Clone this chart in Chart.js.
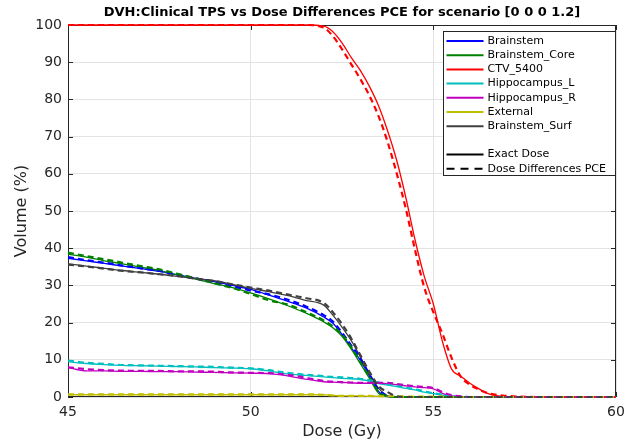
<!DOCTYPE html>
<html>
<head>
<meta charset="utf-8">
<script src="https://cdn.jsdelivr.net/npm/chart.js@4.4.0/dist/chart.umd.min.js"></script>
<style>
  html, body { margin: 0; padding: 0; background: #fff; }
</style>
</head>
<body>
<canvas id="dvhChart" width="627" height="443"></canvas>
<script>
// dose grid (Gy) shared by every curve
const dose = [45, 45.5, 46, 46.5, 47, 47.5, 48, 48.5, 49, 49.5, 50, 50.5, 51, 51.5, 52,
  52.25, 52.5, 52.75, 53, 53.25, 53.5, 53.75, 54, 54.25, 54.5, 54.75, 55, 55.25, 55.5, 55.75, 56, 56.25, 56.5,
  57, 58, 59, 60];

const structures = ["Brainstem", "Brainstem_Core", "CTV_5400", "Hippocampus_L", "Hippocampus_R", "External", "Brainstem_Surf"];
const colors = ["#0000ff", "#008000", "#ff0000", "#00bfbf", "#bf00bf", "#bfbf00", "#404040"];

// Volume (%) - exact dose
const brainstemExact = [37.3, 36.6, 35.9, 35.2, 34.5, 33.8, 32.8, 31.9, 31.0, 30.0, 28.9, 27.4, 25.8, 24.0, 21.5,
  19.8, 16.8, 13.3, 9.9, 5.6, 1.5, 0.1, 0, 0, 0, 0, 0, 0, 0, 0, 0, 0, 0, 0, 0, 0, 0];
const coreExact = [38.4, 37.6, 36.6, 35.8, 34.9, 34.0, 32.8, 31.7, 30.5, 29.4, 28.0, 26.4, 24.6, 22.6, 20.2,
  18.6, 16.3, 12.9, 9.0, 5.0, 1.0, 0.1, 0, 0, 0, 0, 0, 0, 0, 0, 0, 0, 0, 0, 0, 0, 0];
const ctvExact = [100, 100, 100, 100, 100, 100, 100, 100, 100, 100, 100, 100, 100, 100, 99.7,
  98.2, 95.2, 91.3, 87.8, 83.5, 78.3, 71.5, 63.5, 53.5, 42.2, 32.5, 25.0, 14.9, 7.5, 5.6, 3.7, 2.2, 0.9, 0.1, 0, 0, 0];
const hippoLExact = [9.5, 9.0, 8.7, 8.5, 8.4, 8.3, 8.2, 8.1, 7.9, 7.8, 7.6, 7.0, 6.2, 5.8, 5.4,
  5.2, 5.0, 4.9, 4.7, 4.3, 3.6, 3.2, 2.8, 2.3, 1.9, 1.3, 0.9, 0.5, 0.2, 0.1, 0, 0, 0, 0, 0, 0, 0];
const hippoRExact = [7.9, 7.0, 7.0, 6.9, 6.9, 6.8, 6.8, 6.7, 6.6, 6.5, 6.4, 6.3, 5.7, 4.8, 4.1,
  4.0, 3.9, 3.8, 3.7, 3.7, 3.7, 3.6, 3.3, 3.0, 2.7, 2.5, 2.2, 1.0, 0.3, 0.1, 0, 0, 0, 0, 0, 0, 0];
const externalExact = [0.6, 0.6, 0.6, 0.6, 0.6, 0.6, 0.6, 0.6, 0.6, 0.6, 0.6, 0.6, 0.6, 0.6, 0.6,
  0.4, 0.3, 0.3, 0.3, 0.2, 0.2, 0.2, 0.1, 0.1, 0.1, 0.1, 0.1, 0, 0, 0, 0, 0, 0, 0, 0, 0, 0];
const surfExact = [35.8, 35.2, 34.6, 34.0, 33.5, 33.0, 32.4, 31.8, 31.3, 30.3, 29.2, 28.3, 27.3, 26.0, 24.7,
  22.0, 18.8, 15.2, 10.8, 6.0, 2.4, 0.3, 0, 0, 0, 0, 0, 0, 0, 0, 0, 0, 0, 0, 0, 0, 0];

// Volume (%) - dose differences PCE
const brainstemPce = [37.6, 36.8, 36.1, 35.3, 34.6, 33.9, 32.9, 31.9, 30.9, 29.8, 28.6, 27.6, 26.2, 24.4, 22.0,
  20.3, 17.3, 13.9, 10.4, 6.1, 2.0, 0.3, 0, 0, 0, 0, 0, 0, 0, 0, 0, 0, 0, 0, 0, 0, 0];
const corePce = [38.8, 37.9, 37.0, 36.1, 35.2, 34.3, 33.1, 31.9, 30.6, 29.3, 27.7, 26.0, 24.9, 22.9, 20.6,
  19.0, 16.8, 13.4, 9.4, 5.4, 1.4, 0.2, 0, 0, 0, 0, 0, 0, 0, 0, 0, 0, 0, 0, 0, 0, 0];
const ctvPce = [100, 100, 100, 100, 100, 100, 100, 100, 100, 100, 100, 100, 100, 100, 99.3,
  97.0, 93.5, 89.5, 85.5, 81.0, 75.5, 68.5, 60.0, 50.5, 39.5, 29.5, 22.8, 17.0, 10.5, 5.5, 3.3, 2.0, 1.0, 0.3, 0, 0, 0];
const hippoLPce = [9.8, 9.2, 8.9, 8.6, 8.5, 8.4, 8.3, 8.2, 8.1, 7.9, 7.7, 7.2, 6.5, 6.0, 5.6,
  5.4, 5.3, 5.1, 4.9, 4.5, 3.9, 3.4, 3.0, 2.5, 2.1, 1.5, 1.0, 0.6, 0.3, 0.1, 0, 0, 0, 0, 0, 0, 0];
const hippoRPce = [8.0, 7.5, 7.2, 7.1, 7.0, 7.0, 6.9, 6.9, 6.8, 6.6, 6.5, 6.4, 6.0, 5.2, 4.3,
  4.1, 4.0, 3.9, 3.8, 3.8, 3.8, 3.8, 3.5, 3.2, 2.9, 2.7, 2.4, 1.3, 0.5, 0.2, 0, 0, 0, 0, 0, 0, 0];
const externalPce = [0.7, 0.7, 0.7, 0.7, 0.7, 0.7, 0.7, 0.7, 0.7, 0.7, 0.7, 0.7, 0.7, 0.7, 0.6,
  0.4, 0.3, 0.3, 0.3, 0.3, 0.2, 0.2, 0.2, 0.1, 0.1, 0.1, 0.1, 0.1, 0, 0, 0, 0, 0, 0, 0, 0, 0];
const surfPce = [35.6, 35.1, 34.5, 33.9, 33.5, 33.0, 32.5, 31.8, 31.2, 30.3, 29.4, 28.6, 27.6, 26.6, 25.3,
  22.8, 19.6, 15.8, 11.3, 6.8, 3.0, 1.3, 0.2, 0, 0, 0, 0, 0, 0, 0, 0, 0, 0, 0, 0, 0, 0];

const exact = [brainstemExact, coreExact, ctvExact, hippoLExact, hippoRExact, externalExact, surfExact];
const pce = [brainstemPce, corePce, ctvPce, hippoLPce, hippoRPce, externalPce, surfPce];

const xTicks = [45, 50, 55, 60];
const yTicks = [0, 10, 20, 30, 40, 50, 60, 70, 80, 90, 100];

const titleText = "DVH:Clinical TPS vs Dose Differences PCE for scenario [0 0 0 1.2]";
const axisColor = "#262626";

Chart.defaults.font.family = "'DejaVu Sans', sans-serif";
Chart.defaults.color = axisColor;

// matlab plot order: exact curves, then PCE curves on top
const datasets = [];
structures.forEach((name, i) => {
  datasets.push({
    label: name,
    data: dose.map((d, k) => ({ x: d, y: exact[i][k] })),
    borderColor: colors[i],
    borderWidth: 1.3,
  });
});
structures.forEach((name, i) => {
  datasets.push({
    label: name + " PCE",
    data: dose.map((d, k) => ({ x: d, y: pce[i][k] })),
    borderColor: colors[i],
    borderWidth: 2.2,
    borderDash: [6, 4],
  });
});
// chart.js paints dataset 0 last, so flip it
datasets.reverse();

// box, inward ticks and title
const axesBox = {
  id: "axesBox",
  beforeDatasetsDraw(chart) {
    const { ctx, chartArea: a, scales } = chart;
    ctx.save();
    ctx.strokeStyle = axisColor;
    ctx.lineWidth = 1;
    ctx.strokeRect(a.left + 0.5, a.top + 0.5, a.width - 1, a.height - 1);
    ctx.beginPath();
    xTicks.forEach(v => {
      const px = Math.round(scales.x.getPixelForValue(v)) + 0.5;
      ctx.moveTo(px, a.bottom); ctx.lineTo(px, a.bottom - 5);
      ctx.moveTo(px, a.top); ctx.lineTo(px, a.top + 5);
    });
    yTicks.forEach(v => {
      const py = Math.round(scales.y.getPixelForValue(v)) + 0.5;
      ctx.moveTo(a.left, py); ctx.lineTo(a.left + 5, py);
      ctx.moveTo(a.right, py); ctx.lineTo(a.right - 5, py);
    });
    ctx.stroke();
    ctx.restore();
  },
  afterDraw(chart) {
    const { ctx, chartArea: a } = chart;
    ctx.save();
    ctx.font = "bold 13px 'DejaVu Sans'";
    ctx.fillStyle = "#000";
    ctx.textAlign = "center";
    ctx.textBaseline = "middle";
    ctx.fillText(titleText, (a.left + a.right) / 2, 13);
    ctx.restore();
  }
};

// matlab-like legend inside the axes
const legendBox = {
  id: "legendBox",
  afterDraw(chart) {
    const { ctx, chartArea: a } = chart;
    const w = 172, h = 144;
    const x0 = Math.round(a.right - w - 1) + 0.5, y0 = Math.round(a.top + 6) + 0.5;
    ctx.save();
    ctx.fillStyle = "#fff";
    ctx.fillRect(x0, y0, w, h);
    ctx.strokeStyle = axisColor;
    ctx.lineWidth = 1;
    ctx.strokeRect(x0, y0, w, h);
    const rows = structures.map((s, i) => ({ text: s, color: colors[i], dash: [] }));
    rows.push(null);
    rows.push({ text: "Exact Dose", color: "#000", dash: [] });
    rows.push({ text: "Dose Differences PCE", color: "#000", dash: [8, 6] });
    ctx.font = "11px 'DejaVu Sans'";
    ctx.textBaseline = "middle";
    rows.forEach((r, i) => {
      if (!r) return;
      const y = y0 + 9.5 + i * 14.2;
      ctx.beginPath();
      ctx.setLineDash(r.dash);
      ctx.lineWidth = 2;
      ctx.strokeStyle = r.color;
      ctx.moveTo(x0 + 3, y);
      ctx.lineTo(x0 + 40, y);
      ctx.stroke();
      ctx.setLineDash([]);
      ctx.fillStyle = "#000";
      ctx.fillText(r.text, x0 + 44, y);
    });
    ctx.restore();
  }
};

new Chart(document.getElementById("dvhChart"), {
  type: "line",
  data: { datasets: datasets },
  options: {
    responsive: false,
    animation: false,
    layout: { padding: { top: 25, right: 11, left: 0, bottom: 0 } },
    elements: { point: { radius: 0 }, line: { cubicInterpolationMode: "monotone" } },
    datasets: { line: { clip: false } },
    plugins: {
      legend: { display: false },
      tooltip: { enabled: false },
    },
    scales: {
      x: {
        type: "linear",
        min: 45,
        max: 60,
        afterBuildTicks: s => { s.ticks = xTicks.map(v => ({ value: v })); },
        afterFit: s => { s.height = 46; s.paddingLeft = 0; s.paddingRight = 0; },
        grid: { color: "#e3e3e3", drawTicks: false },
        border: { display: false },
        ticks: { font: { size: 14 }, padding: 7, color: axisColor },
        title: { display: true, text: "Dose (Gy)", font: { size: 16 }, padding: { top: 0, bottom: 2 }, color: axisColor },
      },
      y: {
        min: 0,
        max: 100,
        afterBuildTicks: s => { s.ticks = yTicks.map(v => ({ value: v })); },
        afterFit: s => { s.width = 68; s.paddingTop = 0; s.paddingBottom = 0; },
        grid: { color: "#e3e3e3", drawTicks: false },
        border: { display: false },
        ticks: { font: { size: 14 }, padding: 6, color: axisColor },
        title: { display: true, text: "Volume (%)", font: { size: 16 }, padding: { top: 12, bottom: 0 }, color: axisColor },
      },
    },
  },
  plugins: [axesBox, legendBox],
});
</script>
</body>
</html>
